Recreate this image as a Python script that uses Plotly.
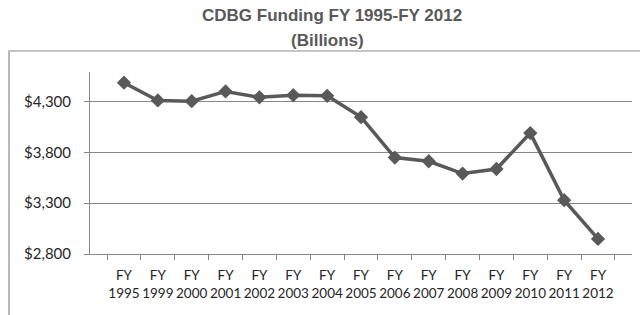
import plotly.graph_objects as go

years = ["1995", "1999", "2000", "2001", "2002", "2003", "2004", "2005",
         "2006", "2007", "2008", "2009", "2010", "2011", "2012"]
funding = [4485, 4310, 4303, 4399, 4341, 4362, 4356, 4146,
           3748, 3712, 3591, 3636, 3989, 3329, 2948]
y_ticks = [2800, 3300, 3800, 4300]
y_tick_labels = ["$2,800", "$3,300", "$3,800", "$4,300"]
title_line1 = "CDBG Funding FY 1995-FY 2012"
title_line2 = "(Billions)"

categories = ["FY<br>" + y for y in years]

W, H = 640, 315
L, R, T, B = 90, 8, 72, 61
pw, ph = W - L - R, H - T - B

fig = go.Figure()
fig.add_trace(go.Scatter(
    x=categories, y=funding, mode="lines+markers",
    line=dict(color="#595959", width=3.5),
    marker=dict(symbol="diamond", size=11, color="#595959"),
    cliponaxis=False, showlegend=False,
))

title_font = dict(family="Liberation Sans, Arial, sans-serif",
                  size=17, color="#595959")

def px_x(px):
    return (px - L) / pw

def px_y(py):
    return (H - B - py) / ph

fig.add_annotation(text="<b>" + title_line1 + "</b>", xref="paper", yref="paper",
                   x=px_x(332), y=px_y(15.5), xanchor="center", yanchor="middle",
                   showarrow=False, font=title_font)
fig.add_annotation(text="<b>" + title_line2 + "</b>", xref="paper", yref="paper",
                   x=px_x(327), y=px_y(40.5), xanchor="center", yanchor="middle",
                   showarrow=False, font=title_font)

# outer chart frame (partially cropped in the reference)
fig.add_shape(type="rect", xref="paper", yref="paper",
              x0=px_x(9), y0=px_y(400), x1=px_x(800), y1=px_y(51),
              line=dict(color="#8c8c8c", width=1.2), layer="below")

axis_color = "#868686"
tick_font = dict(family="Lato, Carlito, sans-serif", size=13.5, color="#262626")

fig.update_xaxes(
    type="category", showgrid=False, showline=True, linecolor=axis_color, linewidth=1,
    ticks="outside", tickson="boundaries", ticklen=5, tickcolor=axis_color,
    tickfont=tick_font, tickangle=0, zeroline=False, automargin=False,
    ticklabelstandoff=9,
)
fig.update_yaxes(
    range=[2800, 4590], tickvals=y_ticks, ticktext=y_tick_labels,
    showgrid=True, gridcolor=axis_color, gridwidth=1,
    showline=True, linecolor=axis_color, linewidth=1,
    ticks="outside", ticklen=5, tickcolor=axis_color,
    tickfont=dict(family="Lato, Carlito, sans-serif", size=15, color="#262626"),
    ticklabelstandoff=10, zeroline=False, automargin=False,
)

fig.update_layout(
    width=W, height=H, margin=dict(l=L, r=R, t=T, b=B, pad=0),
    paper_bgcolor="white", plot_bgcolor="white",
)

fig.write_html("out.html", config={"displayModeBar": False},
               post_script="document.body.style.margin='0';document.body.style.overflow='hidden';")
